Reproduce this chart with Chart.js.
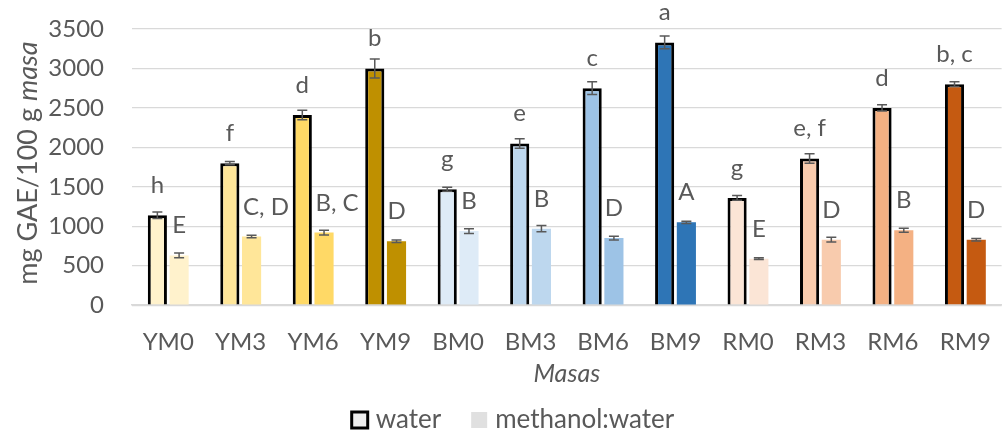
<!DOCTYPE html>
<html>
<head>
<meta charset="utf-8">
<script src="https://cdn.jsdelivr.net/npm/chart.js@4"></script>
<style>
  html, body { margin: 0; padding: 0; background: #fff; }
  #wrap { width: 1006px; height: 430px; }
</style>
</head>
<body>
<div id="wrap"><canvas id="chart"></canvas></div>
<script>
// Data
const masas = ["YM0", "YM3", "YM6", "YM9", "BM0", "BM3", "BM6", "BM9", "RM0", "RM3", "RM6", "RM9"];
const water = [1140, 1800, 2410, 3000, 1470, 2050, 2750, 3330, 1360, 1860, 2500, 2800];
const waterErr = [40, 20, 60, 120, 25, 60, 80, 80, 30, 60, 40, 30];
const methanol = [630, 870, 920, 810, 940, 970, 850, 1050, 590, 830, 950, 830];
const methanolErr = [30, 15, 30, 15, 30, 40, 25, 15, 10, 30, 25, 15];
const waterLetters = ["h", "f", "d", "b", "g", "e", "c", "a", "g", "e, f", "d", "b, c"];
const methanolLetters = ["E", "C, D", "B, C", "D", "B", "B", "D", "A", "E", "D", "B", "D"];
const barColors = ["#FFF2CC", "#FFE699", "#FFD966", "#BF9000",
                   "#DEEBF7", "#BDD7EE", "#9DC3E6", "#2E75B6",
                   "#FBE5D6", "#F8CBAD", "#F4B183", "#C55A11"];
const legendSwatches = ["#eeeeee", "#e0e0e0"];

const textColor = '#595959';
const fontFamily = 'Lato, "Open Sans", sans-serif';

// error bars + letter labels
const extras = {
  id: 'extras',
  afterDatasetsDraw(chart) {
    const ctx = chart.ctx;
    const y = chart.scales.y;
    const errs = [waterErr, methanolErr];
    const letters = [waterLetters, methanolLetters];
    const vals = [water, methanol];
    ctx.save();
    chart.data.datasets.forEach((ds, d) => {
      const meta = chart.getDatasetMeta(d);
      meta.data.forEach((bar, i) => {
        const v = vals[d][i], e = errs[d][i];
        const yTop = y.getPixelForValue(v + e);
        const yBot = y.getPixelForValue(v - e);
        ctx.strokeStyle = '#595959';
        ctx.lineWidth = 1.5;
        ctx.beginPath();
        ctx.moveTo(bar.x, yTop); ctx.lineTo(bar.x, yBot);
        ctx.moveTo(bar.x - 5, yTop); ctx.lineTo(bar.x + 5, yTop);
        ctx.moveTo(bar.x - 5, yBot); ctx.lineTo(bar.x + 5, yBot);
        ctx.stroke();

        // letters
        const txt = letters[d][i];
        ctx.fillStyle = textColor;
        ctx.font = '24px ' + fontFamily;
        ctx.textBaseline = 'alphabetic';
        if (d === 1 && txt.length > 1) {
          ctx.textAlign = 'left';
          ctx.fillText(txt, bar.x - bar.width / 2 + 1, y.getPixelForValue(v) - 22);
        } else {
          ctx.textAlign = 'center';
          ctx.fillText(txt, bar.x, y.getPixelForValue(v) - 22);
        }
      });
    });
    ctx.restore();
  }
};

// y axis title with italic "masa", and the legend under the axis title
const decor = {
  id: 'decor',
  afterDraw(chart) {
    const ctx = chart.ctx;
    const area = chart.chartArea;
    ctx.save();
    // y title
    const p1 = 'mg GAE/100 g ', p2 = 'masa';
    ctx.save();
    ctx.translate(28, (area.top + area.bottom) / 2 - 4);
    ctx.rotate(-Math.PI / 2);
    ctx.fillStyle = textColor;
    ctx.textBaseline = 'middle';
    ctx.textAlign = 'left';
    ctx.font = '27px ' + fontFamily;
    const w1 = ctx.measureText(p1).width;
    ctx.font = 'italic 27px ' + fontFamily;
    const w2 = ctx.measureText(p2).width;
    const start = -(w1 + w2) / 2;
    ctx.font = '27px ' + fontFamily;
    ctx.fillText(p1, start, 0);
    ctx.font = 'italic 27px ' + fontFamily;
    ctx.fillText(p2, start + w1, 0);
    ctx.restore();

    // legend
    ctx.font = '26px ' + fontFamily;
    ctx.textBaseline = 'middle';
    ctx.textAlign = 'left';
    const box = 16, gapText = 8, gapItem = 30;
    const names = chart.data.datasets.map(ds => ds.label);
    const widths = names.map(n => ctx.measureText(n).width);
    let total = 0;
    widths.forEach((w, i) => { total += box + gapText + w + (i ? gapItem : 0); });
    let x = 513 - total / 2;
    const yc = 420;
    names.forEach((n, i) => {
      ctx.fillStyle = legendSwatches[i];
      ctx.fillRect(x, yc - box / 2, box, box);
      if (i === 0) {
        ctx.strokeStyle = '#000';
        ctx.lineWidth = 3;
        ctx.strokeRect(x, yc - box / 2, box, box);
      }
      ctx.fillStyle = textColor;
      ctx.fillText(n, x + box + gapText, yc);
      x += box + gapText + widths[i] + gapItem;
    });
    ctx.restore();
  }
};

new Chart(document.getElementById('chart'), {
  type: 'bar',
  data: {
    labels: masas,
    datasets: [
      {
        label: 'water',
        data: water,
        backgroundColor: barColors,
        borderColor: '#000000',
        borderWidth: 3,
        barPercentage: 0.88,
        categoryPercentage: 0.6
      },
      {
        label: 'methanol:water',
        data: methanol,
        backgroundColor: barColors,
        borderWidth: 0,
        barPercentage: 0.88,
        categoryPercentage: 0.6
      }
    ]
  },
  options: {
    responsive: true,
    maintainAspectRatio: false,
    animation: false,
    layout: { padding: { top: 29, right: -6, left: 0, bottom: 41 } },
    plugins: {
      tooltip: { enabled: false },
      legend: { display: false }
    },
    scales: {
      x: {
        grid: { display: false },
        border: { color: '#d9d9d9', width: 1.5 },
        ticks: { color: textColor, font: { family: fontFamily, size: 24 }, padding: 15 },
        title: {
          display: true,
          text: 'Masas',
          color: textColor,
          font: { family: fontFamily, size: 25, style: 'italic' },
          padding: { top: -13, bottom: 0 }
        }
      },
      y: {
        min: 0,
        max: 3500,
        ticks: {
          stepSize: 500, color: textColor, font: { family: fontFamily, size: 24 }, padding: 28,
          callback: (v) => String(v)
        },
        grid: { color: '#d9d9d9', lineWidth: 1.3, drawTicks: false },
        border: { display: false },
        afterFit(scale) {
          scale.width = 132;
          scale.paddingTop = 0;
          scale.paddingBottom = 0;
        }
      }
    }
  },
  plugins: [extras, decor]
});
</script>
</body>
</html>
